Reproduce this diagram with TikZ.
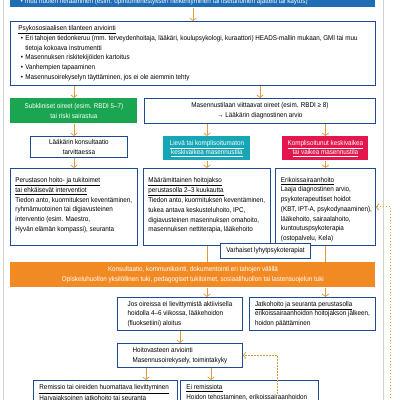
\documentclass[tikz,border=0pt]{standalone}
\usepackage{fontspec}
\setmainfont{Liberation Sans}[FakeStretch=0.9]
\usetikzlibrary{arrows.meta,positioning}
\definecolor{hblue}{HTML}{1F6DB5}
\definecolor{hnavy}{HTML}{1D4A93}
\definecolor{hgreen}{HTML}{1AA551}
\definecolor{hteal}{HTML}{17A6B6}
\definecolor{hred}{HTML}{E3164E}
\definecolor{horange}{HTML}{F28A24}
\definecolor{harrow}{HTML}{E39A3B}
\newcommand{\bul}{\hspace*{2.5pt}\makebox[4.5pt][l]{\textbullet}}
\newcommand{\bulsp}{\hspace*{7pt}}
\newcommand{\ptxt}[3]{\parbox[c][#2][t]{#1}{\begin{tabular}{@{}l@{}}#3\end{tabular}}}

\begin{document}
\begin{tikzpicture}[x=1pt,y=-1pt,font=\fontsize{7}{9.7}\selectfont,
  box/.style={draw=hnavy,line width=0.9pt,fill=white,inner sep=0pt,anchor=north west,align=center},
  fillbox/.style={box,draw=none,fill=#1,text=white},
  line/.style={draw=harrow,line width=0.75pt},
  arr/.style={line,-{Straight Barb[length=2.6pt,width=6.5pt,line width=0.75pt]}},
  dsh/.style={line width=0.95pt,dash pattern=on 1.7pt off 1.3pt}]
\useasboundingbox (0,0) rectangle (400,400);
\clip (0,0) rectangle (400,400);
\draw[gray!35,line width=0.6pt] (3,0) -- (3,400) (383,0) -- (383,400);

% top rows
\node[fillbox=hblue,minimum width=365pt,minimum height=22pt] (huoli) at (10,-15) {};
\node[anchor=base west,text=white,inner sep=0pt] (huoli-t) at (18,3) {\bul muu huolen herääminen (esim. opintomenestyksen heikentyminen tai itsetuhoinen ajattelu tai käytös)};
\node[box,minimum width=365pt,minimum height=64pt] (psyko) at (10,21) {\ptxt{349pt}{60pt}{%
  \underline{Psykososiaalisen tilanteen arviointi}\\
  \bul Eri tahojen tiedonkeruu (mm. terveydenhoitaja, lääkäri, koulupsykologi, kuraattori) HEADS-mallin mukaan, GMI tai muu\\
  \bulsp tietoja kokoava instrumentti\\
  \bul Masennuksen riskitekijöiden kartoitus\\
  \bul Vanhempien tapaaminen\\
  \bul Masennusoirekyselyn täyttäminen, jos ei ole aiemmin tehty}};
\node[fillbox=hgreen,minimum width=127pt,minimum height=25pt] (subkl) at (10,98) {Subkliniset oireet (esim. RBDI 5–7)\\tai riski sairastua};
\node[box,minimum width=231pt,minimum height=25pt] (masen) at (144,98) {Masennustilaan viittaavat oireet (esim. RBDI ≥ 8)\\→ Lääkärin diagnostinen arvio};
\node[box,minimum width=97pt,minimum height=21pt] (konsul) at (30,136) {Lääkärin konsultaatio\\tarvittaessa};
\node[fillbox=hteal,minimum width=87pt,minimum height=24pt] (lieva) at (163,136) {\underline{Lievä tai komplisoitumaton}\\\underline{keskivaikea masennustila}};
\node[fillbox=hred,minimum width=86pt,minimum height=24pt] (vaikea) at (282,136) {\underline{Komplisoitunut keskivaikea}\\\underline{tai vaikea masennustila}};

% treatment boxes
\node[box,minimum width=127pt,minimum height=77pt] (perus) at (10,168) {\ptxt{117pt}{63pt}{%
  \underline{Perustason hoito- ja tukitoimet}\\
  \underline{tai ehkäisevät interventiot}\\
  Tiedon anto, kuormituksen keventäminen,\\
  ryhmämuotoinen tai digiavusteinen\\
  interventio (esim. Maestro,\\
  Hyvän elämän kompassi), seuranta}};
\node[box,minimum width=127pt,minimum height=77pt] (maara) at (143,168) {\ptxt{117pt}{63pt}{%
  \underline{Määrämittainen hoitojakso}\\
  \underline{perustasolla 2–3 kuukautta}\\
  Tiedon anto, kuormituksen keventäminen,\\
  tukea antava keskusteluhoito, IPC,\\
  digiavusteinen masennuksen omahoito,\\
  masennuksen nettiterapia, lääkehoito}};
\node[box,minimum width=100pt,minimum height=77pt] (erik) at (275,168) {\ptxt{89pt}{63pt}{%
  \underline{Erikoissairaanhoito}\\
  Laaja diagnostinen arvio,\\
  psykoterapeuttiset hoidot\\
  (KBT, IPT-A, psykodynaaminen),\\
  lääkehoito, sairaalahoito,\\
  kuntoutuspsykoterapia\\
  (ostopalvelu, Kela)}};
\node[box,minimum width=90pt,minimum height=15pt] (varh) at (220,243) {Varhaiset lyhytpsykoterapiat};
\node[fillbox=horange,minimum width=365pt,minimum height=25pt] (bar) at (10,262) {Konsultaatio, kommunikointi, dokumentointi eri tahojen välillä\\Opiskeluhuollon yksilöllinen tuki, pedagogiset tukitoimet, sosiaalihuollon tai lastensuojelun tuki};

% follow-up
\node[box,minimum width=125pt,minimum height=33pt,align=left] (jos) at (117,297) {Jos oireissa ei lievittymistä aktiivisella\\hoidolla 4–6 viikossa, lääkehoidon\\(fluoksetiini) aloitus};
\node[box,minimum width=126pt,minimum height=33pt,align=left] (jatko) at (249,297) {\underline{Jatkohoito ja seuranta perustasolla}\\erikoissairaanhoidon hoitojakson jälkeen,\\hoidon päättäminen};
\node[box,minimum width=125pt,minimum height=24pt,align=left] (vaste) at (117,343) {Hoitovasteen arviointi\\Masennusoirekysely, toimintakyky};
\node[box,minimum width=144pt,minimum height=40pt] (remis) at (33,380) {\ptxt{132pt}{34.6pt}{%
  \underline{Remissio tai oireiden huomattava lievittyminen}\\
  Harvajaksoinen jatkohoito tai seuranta}};
\node[box,minimum width=138pt,minimum height=40pt] (eirem) at (180,380) {\ptxt{126pt}{34.6pt}{%
  \underline{Ei remissiota}\\
  Hoidon tehostaminen, erikoissairaanhoidon}};
\coordinate (paluu) at (277,394);

% connectors
\draw[arr] (psyko.north |- huoli.south) -- (psyko.north);
\draw[arr] (subkl.north |- psyko.south) -- (subkl.north);
\draw[arr] (masen.north |- psyko.south) -- (masen.north);
\draw[arr] (subkl.south) -- (subkl.south |- konsul.north);
\draw[arr] (lieva.north |- masen.south) -- (lieva.north);
\draw[arr] (vaikea.north |- masen.south) -- (vaikea.north);
\draw[arr] (perus.north |- konsul.south) -- (perus.north);
\draw[arr] (lieva.south) -- (lieva.south |- maara.north);
\draw[arr] (vaikea.south) -- (vaikea.south |- erik.north);
\draw[line] (maara.south) -- (maara.south |- bar.north);
\draw[line] (erik.south) -- (erik.south |- bar.north);
\draw[arr] (maara.south |- bar.south) -- (maara.south |- jos.north);
\draw[arr] (erik.south |- bar.south) -- (erik.south |- jatko.north);
\draw[arr] (jos.south) -- (vaste.north);
\draw[arr] ([xshift=-34pt]vaste.south) -- ([xshift=-34pt]vaste.south |- remis.north);
\draw[arr] ([xshift=31pt]vaste.south) -- ([xshift=31pt]vaste.south |- eirem.north);
\draw[arr,dsh] (paluu) |- (vaste.east);
\draw[arr,dsh] ([yshift=-1pt]eirem.east) -- ++(72,0) |- (erik.east);
\end{tikzpicture}
\end{document}
